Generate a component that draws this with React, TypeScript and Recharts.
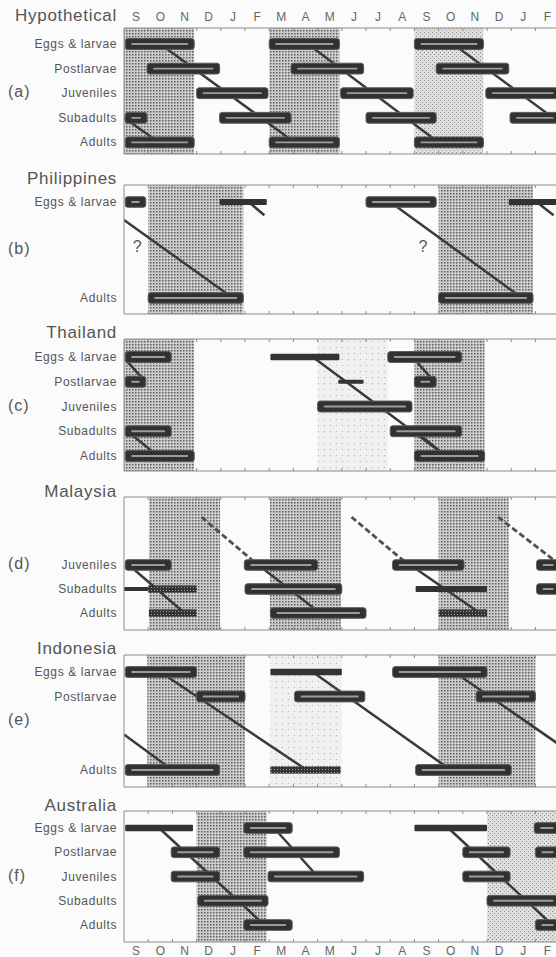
import React from "react";
import { ComposedChart, XAxis, YAxis, ReferenceArea, ReferenceLine, ReferenceDot } from "recharts";

const MONTHS = ["S", "O", "N", "D", "J", "F", "M", "A", "M", "J", "J", "A", "S", "O", "N", "D", "J", "F"];
const STAGES = ["Eggs & larvae", "Postlarvae", "Juveniles", "Subadults", "Adults"];

// shaded seasons: [from month, to month, texture]
// bars: [stage row, from month, to month, kind]
// links: [month, row, month, row, style]
const HYPO_BANDS = [[0, 2.9, "dense"], [6, 8.9, "dense"], [12, 14.85, "light"]];
const HYPO_BARS = [
    [0, 0.05, 2.9, "thick"], [0, 6, 8.9, "thick"], [0, 12, 14.85, "thick"],
    [1, 0.95, 3.95, "thick"], [1, 6.9, 9.9, "thick"], [1, 12.9, 15.9, "thick"],
    [2, 3, 5.95, "thick"], [2, 8.95, 11.95, "thick"], [2, 14.95, 18, "thick"],
    [3, 0.05, 0.95, "thick"], [3, 3.95, 6.9, "thick"], [3, 10, 12.9, "thick"], [3, 15.95, 18, "thick"],
    [4, 0.05, 2.9, "thick"], [4, 6, 8.9, "thick"], [4, 12, 14.85, "thick"],
];
const HYPO_LINKS = [[0, 3, 1.45, 4, "solid"], [1.5, 0, 7.05, 4, "solid"], [7.6, 0, 13.0, 4, "solid"], [13.6, 0, 19.1, 4, "solid"]];

const PHIL_BANDS = [[1, 4.93, "dense"], [13, 16.9, "dense"]];
const PHIL_BARS = [
    [0, 0.05, 0.9, "thick"], [0, 3.95, 5.9, "flat"], [0, 10, 12.9, "thick"], [0, 15.9, 18, "flat"],
    [4, 1, 4.93, "thick"], [4, 13, 16.9, "thick"],
];
const PHIL_LINKS = [[0, 0.75, 4.5, 4, "solid"], [11.0, 0, 16.45, 4, "solid"], [5.15, 0, 5.8, 0.55, "solid"], [17.05, 0, 17.75, 0.55, "solid"]];
const PHIL_MARKS = [[0.55, 1.85, "?"], [12.35, 1.85, "?"]];

const THAI_BANDS = [[0, 2.9, "dense"], [8, 10.9, "faint"], [12, 14.9, "dense"]];
const THAI_BARS = [
    [0, 0.05, 1.95, "thick"], [0, 6.05, 8.9, "flat"], [0, 10.9, 13.95, "thick"],
    [1, 0.05, 0.9, "thick"], [1, 8.85, 9.9, "thin"], [1, 12, 12.9, "thick"],
    [2, 8, 11.9, "thick"],
    [3, 0.05, 1.95, "thick"], [3, 11, 13.95, "thick"],
    [4, 0.05, 2.9, "thick"], [4, 12, 14.9, "thick"],
];
const THAI_LINKS = [
    [0.15, 0.2, 0.7, 0.8, "solid"], [0.2, 3.05, 1.15, 3.8, "solid"], [7.8, 0, 13.3, 4, "solid"],
    [12.1, 0.2, 12.65, 0.8, "solid"], [12.1, 3.05, 13.05, 3.8, "solid"],
];

const MALAY_BANDS = [[1.03, 3.97, "dense"], [6.03, 8.97, "dense"], [13, 15.9, "dense"]];
const MALAY_BARS = [
    [2, 0.05, 1.95, "thick"], [2, 4.97, 8, "thick"], [2, 11.1, 14.05, "thick"], [2, 17.05, 18, "thick"],
    [3, 0, 3.0, "thin"], [3, 1.0, 3.0, "hatch"], [3, 5.0, 9.0, "thick"], [3, 12.05, 15.0, "flat"], [3, 17.05, 18, "thick"],
    [4, 1.03, 3.0, "hatch"], [4, 6.05, 10.0, "thick"], [4, 13.0, 15.0, "hatch"],
];
const MALAY_LINKS = [
    [0.2, 2, 2.5, 4, "solid"],
    [3.2, 0, 5.3, 1.8, "dash"], [5.3, 1.8, 8.1, 4, "solid"],
    [9.4, 0, 11.4, 1.7, "dash"], [11.4, 1.7, 14.7, 4, "solid"],
    [15.45, 0, 17.9, 1.9, "dash"],
];

const INDO_BANDS = [[0.96, 5.0, "dense"], [6.05, 9.0, "faint"], [13.0, 17.0, "dense"]];
const INDO_BARS = [
    [0, 0.05, 3.0, "thick"], [0, 6.05, 9.0, "flat"], [0, 11.1, 15.0, "thick"],
    [1, 3.0, 5.0, "thick"], [1, 7.05, 9.95, "thick"], [1, 14.55, 17.0, "thick"],
    [4, 0.05, 3.95, "thick"], [4, 6.05, 8.95, "hatch"], [4, 12.05, 16.0, "thick"],
];
const INDO_LINKS = [[0, 2.55, 2.0, 4, "solid"], [1.5, 0, 7.55, 4, "solid"], [7.8, 0, 13.5, 4, "solid"], [13.65, 0, 19.5, 4, "solid"]];

const AUST_BANDS = [[3.0, 5.9, "dense"], [15.0, 18, "light"]];
const AUST_BARS = [
    [0, 0.05, 2.85, "flat"], [0, 4.95, 6.95, "thick"], [0, 12.0, 15.0, "flat"], [0, 16.95, 18, "thick"],
    [1, 1.95, 3.95, "thick"], [1, 4.95, 8.9, "thick"], [1, 14.0, 15.95, "thick"], [1, 17.0, 18, "thick"],
    [2, 1.95, 3.95, "thick"], [2, 5.95, 9.9, "thick"], [2, 14.0, 15.95, "thick"],
    [3, 3.05, 5.95, "thick"], [3, 15.0, 18, "thick"],
    [4, 4.95, 6.95, "thick"], [4, 17.0, 18, "thick"],
];
const AUST_LINKS = [[1.45, 0, 5.8, 4, "solid"], [6.2, 0, 8.0, 2, "solid"], [13.4, 0, 17.7, 4, "solid"]];

// layout of each panel in page pixels
const XMAX = 17.85;
const PANELS = [
    { key: "a", title: "Hypothetical", top: 28, bottom: 154, y0: 44, step: 24.6, titleBase: 21, rows: [0, 1, 2, 3, 4], bands: HYPO_BANDS, bars: HYPO_BARS, links: HYPO_LINKS, marks: [], topLabels: true },
    { key: "b", title: "Philippines", top: 185, bottom: 314, y0: 202, step: 24, titleBase: 184, rows: [0, 4], bands: PHIL_BANDS, bars: PHIL_BARS, links: PHIL_LINKS, marks: PHIL_MARKS },
    { key: "c", title: "Thailand", top: 339, bottom: 471, y0: 357, step: 24.75, titleBase: 338, rows: [0, 1, 2, 3, 4], bands: THAI_BANDS, bars: THAI_BARS, links: THAI_LINKS, marks: [] },
    { key: "d", title: "Malaysia", top: 497, bottom: 630, y0: 517, step: 24, titleBase: 497, rows: [2, 3, 4], bands: MALAY_BANDS, bars: MALAY_BARS, links: MALAY_LINKS, marks: [] },
    { key: "e", title: "Indonesia", top: 655, bottom: 787, y0: 672, step: 24.5, titleBase: 654, rows: [0, 1, 4], bands: INDO_BANDS, bars: INDO_BARS, links: INDO_LINKS, marks: [] },
    { key: "f", title: "Australia", top: 811, bottom: 942, y0: 828, step: 24.25, titleBase: 811, rows: [0, 1, 2, 3, 4], bands: AUST_BANDS, bars: AUST_BARS, links: AUST_LINKS, marks: [], bottomLabels: true },
];

const HALF: Record<string, number> = { thick: 0.22, flat: 0.13, thin: 0.08, hatch: 0.15 };
const BAND_FILL: Record<string, string> = { dense: "url(#stipDense)", light: "url(#stipLight)", faint: "url(#stipFaint)" };
const FONT = "'Liberation Sans', Arial, sans-serif";

const barShape = (kind: string) => (p: any) => {
    const { x, y, width, height, clipPath } = p;
    if (kind === "thick") {
        return (
            <g clipPath={clipPath}>
                <rect x={x} y={y} width={width} height={height} rx={2.5} fill="#313131" stroke="#5a5a5a" strokeWidth={1} />
                <rect x={x + 6} y={y + height / 2 - 0.9} width={Math.max(0, width - 12)} height={1.8} rx={0.9} fill="#9c9c9c" />
            </g>
        );
    }
    if (kind === "hatch") {
        return <rect clipPath={clipPath} x={x} y={y} width={width} height={height} fill="url(#barHatch)" />;
    }
    return <rect clipPath={clipPath} x={x} y={y} width={width} height={height} rx={1} fill="#333" />;
};

const RowTick = (props: any) => {
    const { x, y, payload } = props;
    return (
        <text x={x} y={y} textAnchor="end" dominantBaseline="central" fontSize={12} letterSpacing={0.6} fill="#555" fontFamily={FONT}>
            {STAGES[payload.value]}
        </text>
    );
};

const monthCenters = MONTHS.map((_, i) => i + 0.5);
const monthEdges = MONTHS.map((_, i) => i).slice(1);
const axisData = monthCenters.map((m) => ({ month: m }));

function Panel({ p }: { p: any }) {
    const lo = (p.top - p.y0) / p.step;
    const hi = (p.bottom - p.y0) / p.step;
    const ht = p.topLabels ? 28 : 4;
    const hb = p.bottomLabels ? 15 : 4;
    const h = ht + (p.bottom - p.top) + hb;
    const labelStyle = { fill: "#666", fontSize: 12, fontFamily: FONT };

    return (
        <>
            <div style={{ position: "absolute", left: 0, top: p.titleBase - 14.5, width: 117, textAlign: "right", fontSize: 17, lineHeight: "17px", letterSpacing: 0.7, color: "#555" }}>
                {p.title}
            </div>
            <div style={{ position: "absolute", left: 8, top: p.y0 + 2 * p.step - 9, fontSize: 16, lineHeight: "16px", letterSpacing: 1, color: "#555" }}>
                ({p.key})
            </div>
            <div style={{ position: "absolute", left: 0, top: p.top - ht }}>
                <ComposedChart width={556} height={h} data={axisData} margin={{ top: 0, right: 0, bottom: 0, left: 0 }}>
                    <XAxis
                        xAxisId="top"
                        dataKey="month"
                        orientation="top"
                        type="number"
                        domain={[0, XMAX]}
                        allowDataOverflow
                        ticks={monthCenters}
                        interval={0}
                        height={ht}
                        tickSize={0}
                        tickMargin={7}
                        tickLine={false}
                        tick={p.topLabels ? labelStyle : false}
                        tickFormatter={(v: number) => MONTHS[Math.floor(v)]}
                        axisLine={{ stroke: "#8c8c8c" }}
                    />
                    <XAxis
                        dataKey="month"
                        orientation="bottom"
                        type="number"
                        domain={[0, XMAX]}
                        allowDataOverflow
                        ticks={monthCenters}
                        interval={0}
                        height={hb}
                        tickSize={0}
                        tickMargin={4}
                        tickLine={false}
                        tick={p.bottomLabels ? labelStyle : false}
                        tickFormatter={(v: number) => MONTHS[Math.floor(v)]}
                        axisLine={{ stroke: "#8c8c8c" }}
                    />
                    <YAxis
                        type="number"
                        domain={[lo, hi]}
                        allowDataOverflow
                        reversed
                        ticks={p.rows}
                        interval={0}
                        width={124}
                        tickSize={0}
                        tickMargin={7}
                        tickLine={false}
                        axisLine={{ stroke: "#8c8c8c" }}
                        tick={(t: any) => <RowTick {...t} />}
                    />

                    {p.bands.map((b: any, i: number) => (
                        <ReferenceArea key={"band" + i} x1={b[0]} x2={b[1]} y1={lo} y2={hi} ifOverflow="hidden" fill={BAND_FILL[b[2]]} fillOpacity={1} stroke="none" />
                    ))}

                    {monthEdges.map((m) => (
                        <ReferenceLine key={"tt" + m} segment={[{ x: m, y: lo }, { x: m, y: lo + 0.12 }]} stroke="#888" strokeWidth={1} />
                    ))}
                    {monthEdges.map((m) => (
                        <ReferenceLine key={"tb" + m} segment={[{ x: m, y: hi }, { x: m, y: hi - 0.12 }]} stroke="#888" strokeWidth={1} />
                    ))}

                    {p.links.map((l: any, i: number) => (
                        <ReferenceLine
                            key={"link" + i}
                            segment={[{ x: l[0], y: l[1] }, { x: l[2], y: l[3] }]}
                            ifOverflow="hidden"
                            stroke={l[4] === "dash" ? "#505050" : "#3a3a3a"}
                            strokeWidth={l[4] === "dash" ? 2.8 : 2.5}
                            strokeDasharray={l[4] === "dash" ? "6 3" : undefined}
                        />
                    ))}

                    {p.bars.map((b: any, i: number) => (
                        <ReferenceArea
                            key={"bar" + i}
                            x1={b[1]}
                            x2={b[2]}
                            y1={b[0] - HALF[b[3]]}
                            y2={b[0] + HALF[b[3]]}
                            ifOverflow="hidden"
                            zIndex={450}
                            fill="#333"
                            fillOpacity={1}
                            shape={barShape(b[3])}
                        />
                    ))}

                    {p.marks.map((m: any, i: number) => (
                        <ReferenceDot
                            key={"mark" + i}
                            x={m[0]}
                            y={m[1]}
                            r={0}
                            fill="none"
                            stroke="none"
                            label={{ value: m[2], position: "center", fontSize: 16, fill: "#555" }}
                        />
                    ))}
                </ComposedChart>
            </div>
        </>
    );
}

export default function App() {
    return (
        <div style={{ position: "absolute", left: 0, top: 0, width: 556, height: 957, background: "#fbfbfb", fontFamily: FONT, overflow: "hidden" }}>
            <svg width={0} height={0} style={{ position: "absolute" }}>
                <defs>
                    <pattern id="stipDense" width={3} height={3} patternUnits="userSpaceOnUse">
                        <rect width={3} height={3} fill="#cdcdcd" />
                        <rect width={1.5} height={1.5} fill="#5c5c5c" />
                    </pattern>
                    <pattern id="stipLight" width={4} height={4} patternUnits="userSpaceOnUse">
                        <rect width={4} height={4} fill="#dedede" />
                        <rect width={1} height={1} fill="#8c8c8c" />
                        <rect x={2} y={2} width={1} height={1} fill="#9a9a9a" />
                    </pattern>
                    <pattern id="stipFaint" width={6} height={6} patternUnits="userSpaceOnUse">
                        <rect width={6} height={6} fill="#f0f0f0" />
                        <rect width={1} height={1} fill="#b0b0b0" />
                    </pattern>
                    <pattern id="barHatch" width={3} height={3} patternUnits="userSpaceOnUse">
                        <rect width={3} height={3} fill="#333" />
                        <rect x={1} y={1} width={1} height={1} fill="#a0a0a0" />
                    </pattern>
                </defs>
            </svg>
            {PANELS.map((p) => (
                <Panel key={p.key} p={p} />
            ))}
        </div>
    );
}
